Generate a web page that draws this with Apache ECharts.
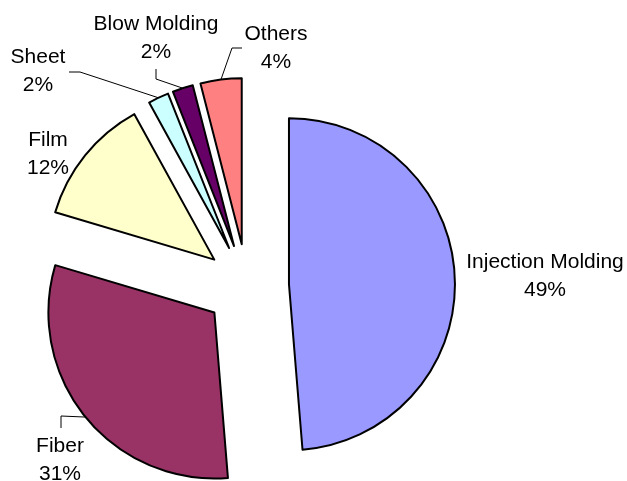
<!DOCTYPE html>
<html><head><meta charset="utf-8">
<script src="https://cdn.jsdelivr.net/npm/echarts@6/dist/echarts.min.js"></script>
<style>html,body{margin:0;padding:0;background:#fff}#c{width:627px;height:481px}</style>
</head><body><div id="c"></div>
<script>
// ---- data ----
const categories = ['Injection Molding', 'Fiber', 'Film', 'Sheet', 'Blow Molding', 'Others'];
const shares = [48.7, 30.9, 12.4, 2.0, 2.0, 4.0];

// ---- styling / layout ----
const colors = ['#9999FF', '#993366', '#FFFFCC', '#CCFFFF', '#660066', '#FF8080'];
const CX = 247, CY = 286, R = 166, OFFSET = 42;
const FONT = '21px "Liberation Sans", Arial, sans-serif';
const LINE_H = 28;
const labelPos = {
  'Injection Molding': [545, 276],
  'Fiber': [60, 460],
  'Film': [48, 154],
  'Sheet': [38, 71],
  'Blow Molding': [156, 38],
  'Others': [276, 48]
};
const labelElbow = {
  'Fiber': [[61, 416], [61, 428]],
  'Sheet': [[80, 72], [69, 72]],
  'Blow Molding': [[156, 79], [156, 69]],
  'Others': [[232, 48], [242, 48]]
};

const total = shares.reduce((a, b) => a + b, 0);
const midAngles = [];
let cum = 0;
shares.forEach(v => { midAngles.push((cum + v / 2) / total * 2 * Math.PI); cum += v; });

const graphics = [];
categories.forEach((name, i) => {
  const pos = labelPos[name];
  graphics.push({
    type: 'text', x: pos[0], y: pos[1], silent: true,
    style: {
      text: name + '\n' + Math.round(shares[i] / total * 100) + '%',
      align: 'center', verticalAlign: 'middle',
      font: FONT, lineHeight: LINE_H, fill: '#000'
    }
  });
  const elbow = labelElbow[name];
  if (elbow) {
    const a = midAngles[i];
    const edge = [CX + (R + OFFSET) * Math.sin(a), CY - (R + OFFSET) * Math.cos(a)];
    graphics.push({
      type: 'polyline', silent: true,
      shape: {points: [edge, elbow[0], elbow[1]]},
      style: {stroke: '#000', lineWidth: 1, fill: null}
    });
  }
});

const chart = echarts.init(document.getElementById('c'), null, {renderer: 'canvas'});
chart.setOption({
  animation: false,
  backgroundColor: '#fff',
  graphic: graphics,
  series: [{
    type: 'pie',
    center: [CX, CY],
    radius: [0, R],
    startAngle: 90,
    clockwise: true,
    selectedMode: 'multiple',
    selectedOffset: OFFSET,
    avoidLabelOverlap: false,
    emphasis: {disabled: true},
    itemStyle: {borderColor: '#000', borderWidth: 2},
    select: {itemStyle: {borderColor: '#000', borderWidth: 2}},
    label: {show: false},
    labelLine: {show: false},
    data: categories.map((name, i) => ({
      name: name,
      value: shares[i],
      selected: true,
      itemStyle: {color: colors[i]},
      select: {itemStyle: {color: colors[i]}}
    }))
  }]
});
</script>
</body></html>
